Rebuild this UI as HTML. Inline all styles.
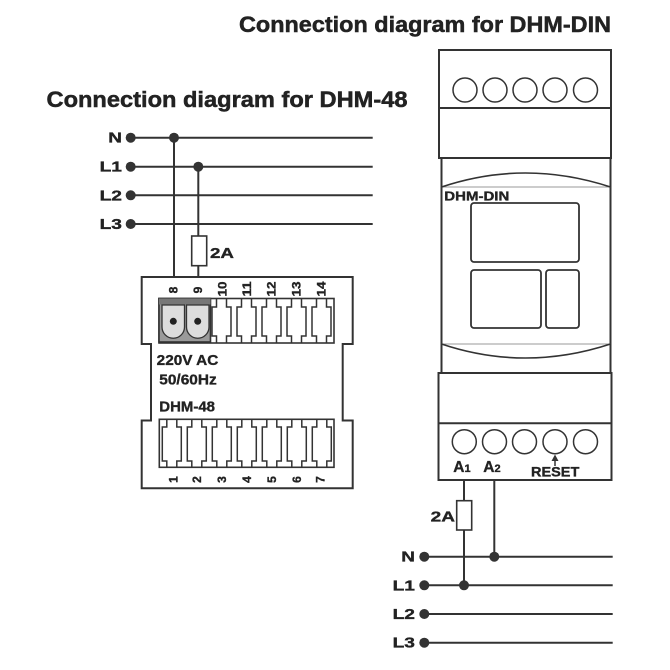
<!DOCTYPE html>
<html><head><meta charset="utf-8"><style>
html,body{margin:0;padding:0;background:#fff;}
svg{display:block;}
text{font-family:"Liberation Sans",Arial,sans-serif;font-weight:bold;fill:#222;stroke:#222;stroke-width:0.35px;}
</style></head><body>
<svg width="670" height="670" viewBox="0 0 670 670" xmlns="http://www.w3.org/2000/svg">
<!-- Titles -->
<text x="239" y="32" font-size="22.5" textLength="372" lengthAdjust="spacingAndGlyphs" style="stroke-width:0.5px">Connection diagram for DHM-DIN</text>
<text x="46.5" y="107" font-size="22.5" textLength="361" lengthAdjust="spacingAndGlyphs" style="stroke-width:0.5px">Connection diagram for DHM-48</text>

<g stroke="#333" fill="none" stroke-width="2">
  <line x1="130.7" y1="137.7" x2="372.7" y2="137.7"/>
  <line x1="130.7" y1="166.7" x2="372.7" y2="166.7"/>
  <line x1="130.7" y1="195.3" x2="372.7" y2="195.3"/>
  <line x1="130.7" y1="224" x2="372.7" y2="224"/>
  <line x1="174" y1="137.7" x2="174" y2="277"/>
  <line x1="198.3" y1="166.7" x2="198.3" y2="277"/>
  <path d="M141.7,277 H352.7 V344 H342.7 V420.5 H352.7 V488.3 H141.7 V420.5 H151 V344 H141.7 Z"/>
</g>
<g fill="#333">
  <circle cx="130.7" cy="137.7" r="5"/>
  <circle cx="130.7" cy="166.7" r="5"/>
  <circle cx="130.7" cy="195.3" r="5"/>
  <circle cx="130.7" cy="224" r="5"/>
  <circle cx="174" cy="137.7" r="5"/>
  <circle cx="198.3" cy="166.7" r="5"/>
</g>
<rect x="191.7" y="236" width="15" height="29.7" fill="#fff" stroke="#333" stroke-width="1.6"/>
<text x="210" y="258" font-size="15" textLength="24" lengthAdjust="spacingAndGlyphs">2A</text>
<text x="122" y="142.7" font-size="15" text-anchor="end" textLength="13.7" lengthAdjust="spacingAndGlyphs">N</text>
<text x="122" y="171.7" font-size="15" text-anchor="end" textLength="22.4" lengthAdjust="spacingAndGlyphs">L1</text>
<text x="122" y="200.3" font-size="15" text-anchor="end" textLength="22.4" lengthAdjust="spacingAndGlyphs">L2</text>
<text x="122" y="229" font-size="15" text-anchor="end" textLength="22.4" lengthAdjust="spacingAndGlyphs">L3</text>

<!-- Top terminal block -->
<rect x="159" y="298.5" width="175" height="44.5" fill="none" stroke="#333" stroke-width="1.6"/>
<rect x="159" y="298.5" width="51.5" height="43.5" fill="#9a9a9a" stroke="#333" stroke-width="1.6"/>
<rect x="159" y="298.5" width="51.5" height="6" fill="#777" stroke="none"/>
<g stroke="#333" stroke-width="1.5" fill="none">
  <path d="M216.5,298.5 V307 H212 V336 H216.5 V343 M226.5,298.5 V307 H231 V336 H226.5 V343"/>
  <path d="M241.5,298.5 V307 H237 V336 H241.5 V343 M251.5,298.5 V307 H256 V336 H251.5 V343"/>
  <path d="M266.5,298.5 V307 H262 V336 H266.5 V343 M276.5,298.5 V307 H281 V336 H276.5 V343"/>
  <path d="M291.5,298.5 V307 H287 V336 H291.5 V343 M301.5,298.5 V307 H306 V336 H301.5 V343"/>
  <path d="M316.5,298.5 V307 H312 V336 H316.5 V343 M326.5,298.5 V307 H331 V336 H326.5 V343"/>
</g>
<g stroke="#333" stroke-width="1.3" fill="#ddd">
  <path d="M162,305 H184.5 V327 A11.25,11.25 0 0 1 162,327 Z"/>
  <path d="M186.5,305 H209 V327 A11.25,11.25 0 0 1 186.5,327 Z"/>
</g>
<g fill="#222">
  <circle cx="173.3" cy="321.3" r="3.5"/>
  <circle cx="197.7" cy="321.3" r="3.5"/>
</g>
<g font-size="12">
  <text transform="translate(177.5,290) rotate(-90)" text-anchor="middle">8</text>
  <text transform="translate(202,290) rotate(-90)" text-anchor="middle">9</text>
  <text transform="translate(226.5,289) rotate(-90)" text-anchor="middle" textLength="15" lengthAdjust="spacingAndGlyphs">10</text>
  <text transform="translate(251,289) rotate(-90)" text-anchor="middle" textLength="15" lengthAdjust="spacingAndGlyphs">11</text>
  <text transform="translate(275.5,289) rotate(-90)" text-anchor="middle" textLength="15" lengthAdjust="spacingAndGlyphs">12</text>
  <text transform="translate(300.5,289) rotate(-90)" text-anchor="middle" textLength="15" lengthAdjust="spacingAndGlyphs">13</text>
  <text transform="translate(325.5,289) rotate(-90)" text-anchor="middle" textLength="15" lengthAdjust="spacingAndGlyphs">14</text>
</g>

<text x="156.7" y="365" font-size="14.5" textLength="61.6" lengthAdjust="spacingAndGlyphs">220V AC</text>
<text x="159.3" y="384.3" font-size="14.5" textLength="57.4" lengthAdjust="spacingAndGlyphs">50/60Hz</text>
<text x="159.3" y="411.7" font-size="14.5" textLength="55.7" lengthAdjust="spacingAndGlyphs">DHM-48</text>

<!-- Bottom terminal block -->
<rect x="159.3" y="419.3" width="174.7" height="48" fill="none" stroke="#333" stroke-width="1.6"/>
<g stroke="#333" stroke-width="1.5" fill="none">
  <path d="M166.8,419.3 V427 H162.3 V461 H166.8 V467.3 M176.8,419.3 V427 H181.3 V461 H176.8 V467.3"/>
  <path d="M191.8,419.3 V427 H187.3 V461 H191.8 V467.3 M201.8,419.3 V427 H206.3 V461 H201.8 V467.3"/>
  <path d="M216.8,419.3 V427 H212.3 V461 H216.8 V467.3 M226.8,419.3 V427 H231.3 V461 H226.8 V467.3"/>
  <path d="M241.8,419.3 V427 H237.3 V461 H241.8 V467.3 M251.8,419.3 V427 H256.3 V461 H251.8 V467.3"/>
  <path d="M266.8,419.3 V427 H262.3 V461 H266.8 V467.3 M276.8,419.3 V427 H281.3 V461 H276.8 V467.3"/>
  <path d="M291.8,419.3 V427 H287.3 V461 H291.8 V467.3 M301.8,419.3 V427 H306.3 V461 H301.8 V467.3"/>
  <path d="M316.8,419.3 V427 H312.3 V461 H316.8 V467.3 M326.8,419.3 V427 H331.3 V461 H326.8 V467.3"/>
</g>
<g font-size="12">
  <text transform="translate(177.5,479.5) rotate(-90)" text-anchor="middle">1</text>
  <text transform="translate(201,479.5) rotate(-90)" text-anchor="middle">2</text>
  <text transform="translate(226,479.5) rotate(-90)" text-anchor="middle">3</text>
  <text transform="translate(251,479.5) rotate(-90)" text-anchor="middle">4</text>
  <text transform="translate(276,479.5) rotate(-90)" text-anchor="middle">5</text>
  <text transform="translate(301,479.5) rotate(-90)" text-anchor="middle">6</text>
  <text transform="translate(324.5,479.5) rotate(-90)" text-anchor="middle">7</text>
</g>

<!-- DHM-DIN module -->
<g stroke="#333" stroke-width="2" fill="none">
  <rect x="439" y="50" width="172" height="108"/>
  <line x1="439" y1="108" x2="611" y2="108"/>
  <path d="M441.5,158 V373 M610.5,158 V373"/>
  <rect x="438.5" y="373" width="173" height="107"/>
  <line x1="438.5" y1="423.3" x2="611.5" y2="423.3"/>
</g>
<g stroke="#333" stroke-width="1.5" fill="none">
  <circle cx="465" cy="90" r="12"/>
  <circle cx="495" cy="90" r="12"/>
  <circle cx="525" cy="90" r="12"/>
  <circle cx="555" cy="90" r="12"/>
  <circle cx="585.5" cy="90" r="12"/>
  <circle cx="464.3" cy="441.7" r="12"/>
  <circle cx="494.5" cy="441.7" r="12"/>
  <circle cx="524.5" cy="441.7" r="12"/>
  <circle cx="555" cy="441.7" r="12"/>
  <circle cx="585.5" cy="441.7" r="12"/>
</g>
<line x1="441.5" y1="187" x2="610.5" y2="187" stroke="#999" stroke-width="1"/>
<path d="M441.5,187 Q525,159 610.5,187" stroke="#333" stroke-width="1.6" fill="none"/>
<line x1="441.5" y1="344" x2="610.5" y2="344" stroke="#999" stroke-width="1"/>
<path d="M441.5,344 Q525,372 610.5,344" stroke="#333" stroke-width="1.6" fill="none"/>
<text x="444.3" y="200.5" font-size="12.5" textLength="65" lengthAdjust="spacingAndGlyphs">DHM-DIN</text>
<g stroke="#333" stroke-width="1.8" fill="none">
  <rect x="471" y="203" width="108" height="59" rx="3"/>
  <rect x="471" y="270" width="70" height="58" rx="3"/>
  <rect x="546" y="270" width="33" height="58" rx="3"/>
</g>
<text x="453.3" y="472" font-size="15.5">A<tspan font-size="11">1</tspan></text>
<text x="483.3" y="472" font-size="15.5">A<tspan font-size="11">2</tspan></text>
<text x="531" y="476.5" font-size="13.5" textLength="48.3" lengthAdjust="spacingAndGlyphs">RESET</text>
<line x1="555" y1="459" x2="555" y2="466" stroke="#333" stroke-width="1.5"/>
<path d="M555,454.5 L551.5,461 L558.5,461 Z" fill="#333"/>

<!-- Right wiring -->
<g stroke="#333" stroke-width="2" fill="none">
  <line x1="424.3" y1="556.7" x2="612.7" y2="556.7"/>
  <line x1="424.3" y1="585.3" x2="612.7" y2="585.3"/>
  <line x1="424.3" y1="614" x2="612.7" y2="614"/>
  <line x1="424.3" y1="642.7" x2="612.7" y2="642.7"/>
  <line x1="464" y1="480" x2="464" y2="585.3"/>
  <line x1="494.3" y1="480" x2="494.3" y2="556.7"/>
</g>
<rect x="456.7" y="500.7" width="15" height="29.3" fill="#fff" stroke="#333" stroke-width="1.6"/>
<text x="455" y="521.5" font-size="15" text-anchor="end" textLength="24.3" lengthAdjust="spacingAndGlyphs">2A</text>
<g fill="#333">
  <circle cx="424.3" cy="556.7" r="5"/>
  <circle cx="424.3" cy="585.3" r="5"/>
  <circle cx="424.3" cy="614" r="5"/>
  <circle cx="424.3" cy="642.7" r="5"/>
  <circle cx="494.3" cy="556.7" r="5"/>
  <circle cx="464" cy="585.3" r="5"/>
</g>
<text x="415" y="561.7" font-size="15" text-anchor="end" textLength="13.7" lengthAdjust="spacingAndGlyphs">N</text>
<text x="415" y="590.3" font-size="15" text-anchor="end" textLength="22.4" lengthAdjust="spacingAndGlyphs">L1</text>
<text x="415" y="619" font-size="15" text-anchor="end" textLength="22.4" lengthAdjust="spacingAndGlyphs">L2</text>
<text x="415" y="647.7" font-size="15" text-anchor="end" textLength="22.4" lengthAdjust="spacingAndGlyphs">L3</text>
</svg>
</body></html>
